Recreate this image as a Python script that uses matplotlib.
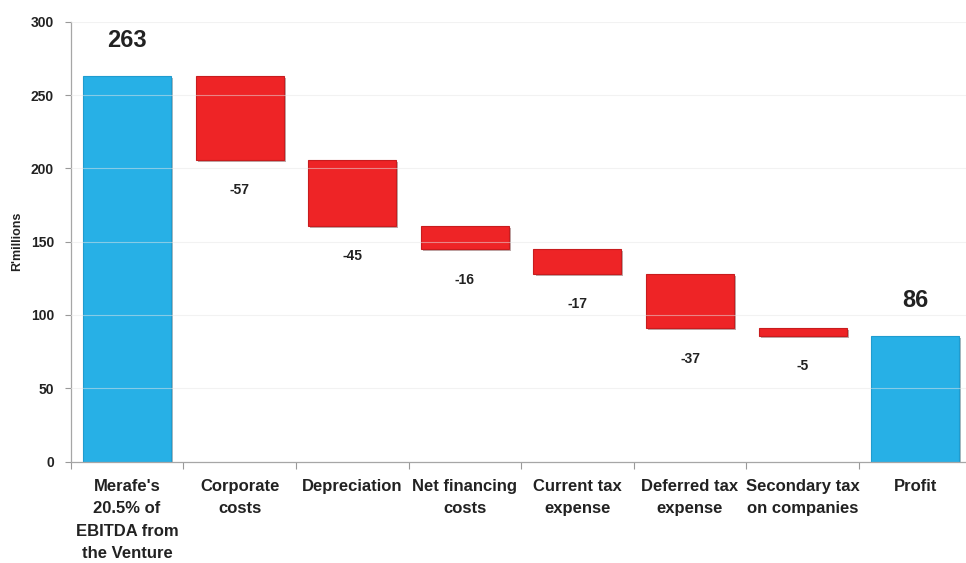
import numpy as np
import matplotlib
matplotlib.use('Agg')
import matplotlib.pyplot as plt
import matplotlib.patheffects as pe

# data
categories = ["Merafe's\n20.5% of\nEBITDA from\nthe Venture", 'Corporate\ncosts', 'Depreciation',
              'Net financing\ncosts', 'Current tax\nexpense', 'Deferred tax\nexpense',
              'Secondary tax\non companies', 'Profit']
start_value = 263
changes = [-57, -45, -16, -17, -37, -5]
profit = 86
y_ticks = [0, 50, 100, 150, 200, 250, 300]

BLUE = '#27b0e6'
RED = '#ee2426'
TXT = '#222222'

plt.rcParams['font.family'] = ['Liberation Sans', 'DejaVu Sans']
plt.rcParams['font.weight'] = 'bold'

fig = plt.figure(figsize=(9.66, 5.63), dpi=100)
ax = fig.add_axes([0.0732, 0.18, 0.9325, 0.7815])

x = np.arange(len(categories))
w = 0.78
shadow = [pe.SimplePatchShadow(offset=(1.5, -1.5), alpha=0.35), pe.Normal()]

# start and end totals
totals_x = [x[0], x[-1]]
totals_v = [start_value, profit]
bars = ax.bar(totals_x, totals_v, width=w, color=BLUE, edgecolor='#1f9ccf', linewidth=0.8, zorder=2)
for b in bars:
    b.set_path_effects(shadow)
for xi, v in zip(totals_x, totals_v):
    ax.text(xi, v + 24, str(v), ha='center', va='center', fontsize=17, fontweight='bold', color=TXT)

# floating changes
level = start_value
for i, c in enumerate(changes):
    xi = x[i + 1]
    bottom = level + c
    b = ax.bar(xi, -c, bottom=bottom, width=w, color=RED, edgecolor='#c81c1e', linewidth=0.8, zorder=2)[0]
    b.set_path_effects(shadow)
    ax.annotate(str(c), (xi, bottom), xytext=(0, -22), textcoords='offset points',
                ha='center', va='center', fontsize=10, fontweight='bold', color=TXT)
    level = bottom

ax.set_xlim(-0.5, len(categories) - 0.5)
ax.set_ylim(0, 300)
ax.set_yticks(y_ticks)
ax.tick_params(axis='y', length=4, width=0.8, color='#999999', pad=8, labelsize=10, labelcolor=TXT)
ax.set_xticks(np.arange(len(categories) + 1) - 0.5)
ax.set_xticklabels([])
ax.tick_params(axis='x', length=5, width=0.8, color='#999999')
for xi, lab in zip(x, categories):
    ax.text(xi, -12, lab, ha='center', va='top', fontsize=12, fontweight='bold', color=TXT,
            linespacing=1.6, transform=ax.transData)

for yv in y_ticks[1:]:
    ax.axhline(yv, color='#e6e6e6', alpha=0.5, linewidth=0.8, zorder=3)

for s in ['top', 'right']:
    ax.spines[s].set_visible(False)
for s in ['left', 'bottom']:
    ax.spines[s].set_color('#a6a6a6')
    ax.spines[s].set_linewidth(0.9)

fig.text(17 / 966, 1 - 241 / 563, "R'millions", rotation=90, ha='center', va='center',
         fontsize=9, fontweight='bold', color=TXT)

fig.savefig('out.png', dpi=100)
